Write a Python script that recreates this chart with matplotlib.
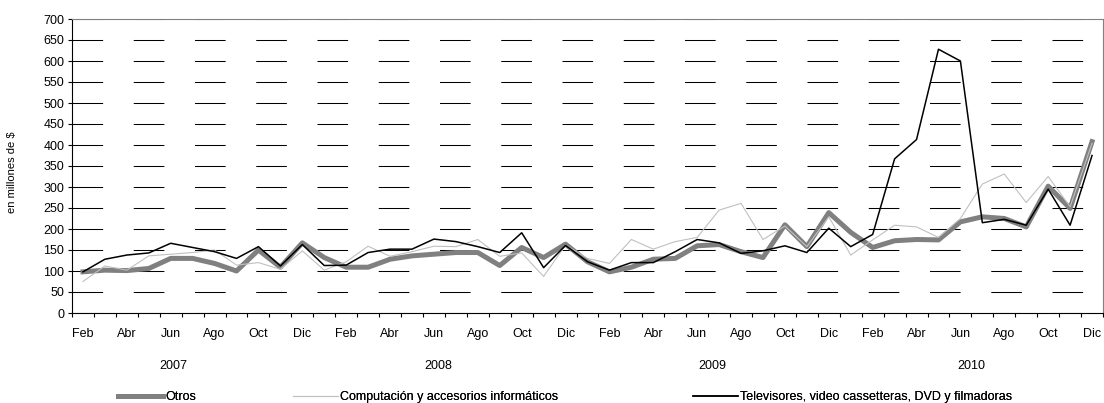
import matplotlib
matplotlib.use('Agg')
import matplotlib.pyplot as plt
import numpy as np

# monthly values, Feb 2007 - Dic 2010 (en millones de $)
otros = [98, 102, 101, 106, 130, 130, 118, 100, 150, 109, 167, 132,
         109, 109, 128, 136, 140, 144, 144, 113, 156, 132, 164, 122,
         98, 109, 128, 130, 160, 163, 146, 132, 210, 158, 239, 192,
         156, 172, 175, 174, 217, 229, 225, 205, 302, 249, 408]
computacion = [75, 112, 102, 136, 140, 144, 150, 114, 120, 104, 148, 102,
               122, 159, 135, 146, 159, 158, 175, 135, 143, 87, 162, 130,
               118, 175, 152, 170, 180, 245, 261, 175, 207, 158, 229, 138,
               174, 209, 205, 180, 225, 307, 331, 263, 325, 253, 404]
televisores = [98, 128, 138, 143, 166, 156, 146, 130, 158, 112, 163, 113,
               114, 144, 152, 152, 176, 170, 158, 144, 191, 108, 161, 122,
               102, 120, 120, 146, 175, 167, 142, 148, 160, 144, 202, 158,
               187, 367, 413, 628, 600, 215, 223, 209, 295, 209, 375]

month_labels = ['Feb', 'Abr', 'Jun', 'Ago', 'Oct', 'Dic'] * 4
years = ['2007', '2008', '2009', '2010']
year_pos = [4.1, 16.2, 28.7, 40.5]

names = ['Otros', 'Computación y accesorios informáticos',
         'Televisores, video cassetteras, DVD y filmadoras']

plt.rcParams['font.family'] = ['Liberation Sans', 'DejaVu Sans']

fig = plt.figure(figsize=(11.04, 4.03), dpi=100)
ax = fig.add_axes([72/1104, 90/403, 1031/1104, 294/403])

x = np.arange(len(otros))
l1, = ax.plot(x, otros, color='#808080', lw=3.6, zorder=3)
l2, = ax.plot(x, computacion, color='#c0c0c0', lw=0.8, zorder=4)
l3, = ax.plot(x, televisores, color='black', lw=1.1, zorder=5)

ax.set_xlim(-0.5, len(x) - 0.5)
ax.set_ylim(0, 700)
ax.set_yticks(range(0, 701, 50))
ax.yaxis.grid(True, color='black', lw=0.75, linestyle=(0, (29.4, 29.4)))
ax.set_axisbelow(True)

# ticks between months, labels every other month
ax.set_xticks(np.arange(-0.5, len(x), 1))
ax.set_xticklabels([])
ax.set_xticks(np.linspace(0, len(x) - 1, len(month_labels)), minor=True)
ax.set_xticklabels(month_labels, minor=True)
ax.tick_params(axis='x', which='major', length=3, width=0.8, direction='out')
ax.tick_params(axis='x', which='minor', length=0, pad=10.5, labelsize=9)
ax.tick_params(axis='y', length=3, width=0.8, pad=2.5, labelsize=9)

for yr, p in zip(years, year_pos):
    ax.text(p, -0.18, yr, transform=ax.get_xaxis_transform(),
            ha='center', va='center', fontsize=9)

ax.spines['left'].set_color('black')
ax.spines['bottom'].set_color('black')
ax.spines['top'].set_color('#808080')
ax.spines['right'].set_color('#808080')

ax.set_ylabel('en millones de $', fontsize=8)
ax.yaxis.set_label_coords(-0.053, 0.48)

# one legend box per entry, spread like the original
for line, name, left in zip([l1, l2, l3], names, [118, 293, 693]):
    fig.add_artist(fig.legend([line], [name], loc='center left',
                              bbox_to_anchor=(left/1104, 6/403),
                              frameon=False, fontsize=9, handlelength=3.6,
                              handletextpad=0.2, borderpad=0,
                              borderaxespad=0))

fig.savefig('out.png', dpi=100)
